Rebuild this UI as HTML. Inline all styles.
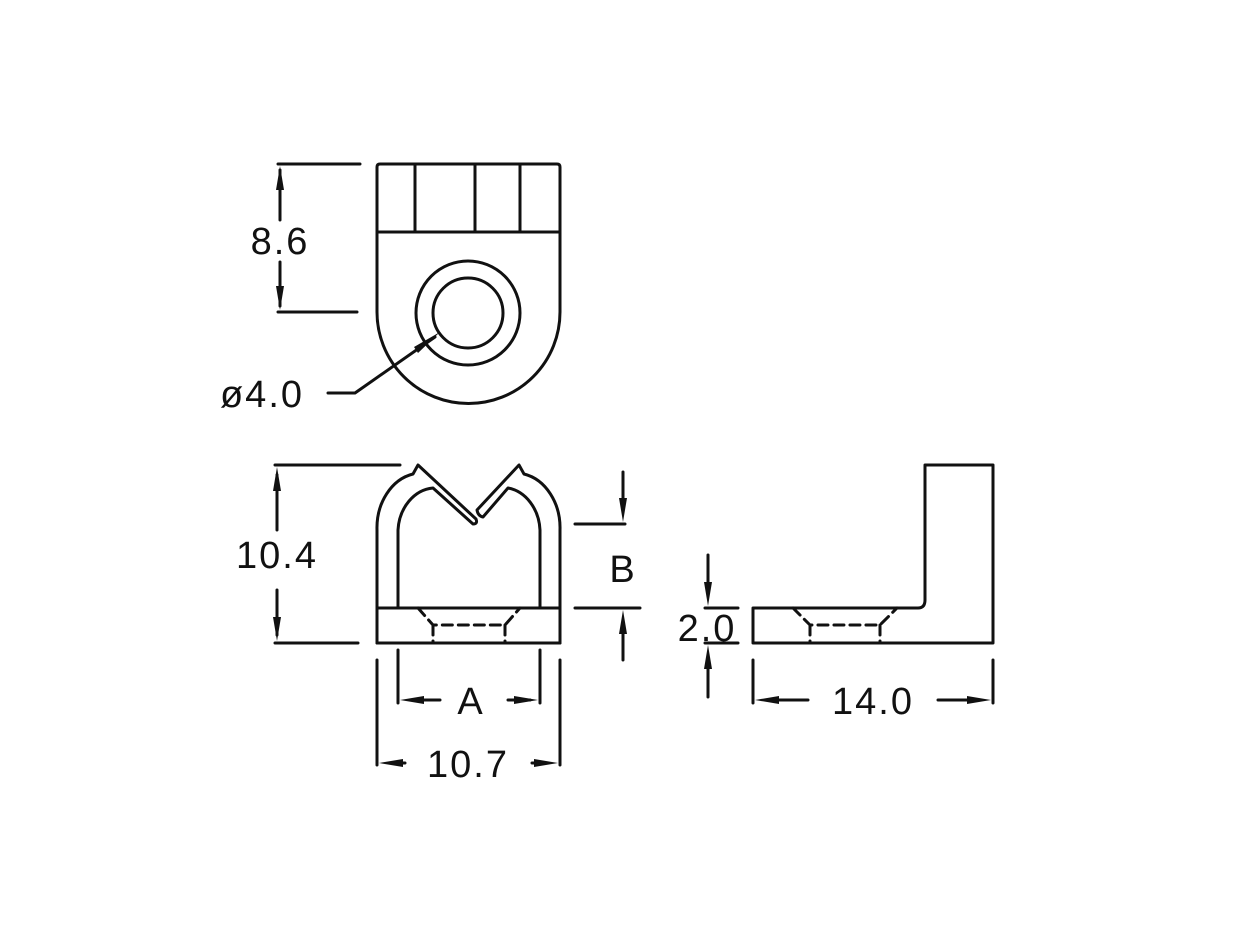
<!DOCTYPE html>
<html><head><style>html,body{margin:0;padding:0;background:#fff}svg{display:block}</style></head>
<body>
<svg width="1240" height="949" viewBox="0 0 1240 949" xmlns="http://www.w3.org/2000/svg">
<g fill="none" stroke="#111" stroke-width="3" stroke-linecap="round" stroke-linejoin="round">
<!-- top view -->
<path d="M377,312 V167 Q377,164 380,164 H557 Q560,164 560,167 V312 A91.5,91.5 0 0 1 377,312"/>
<path d="M377,232 H560 M415,164 V232 M475,164 V232 M520,164 V232"/>
<circle cx="468" cy="313" r="52"/>
<circle cx="468" cy="313" r="35"/>
<path d="M328,393 H355 L435,337"/>
<path d="M278,164 H360 M278,312 H357"/>
<path d="M280,220 V170 M280,262 V306"/>
<!-- front view -->
<path d="M377,643 V530 A45,55 0 0 1 413,474 L418,465 L476,519 Q478,524 473,524 L433,488 A38,45 0 0 0 398,530 V608"/>
<path d="M560,643 V530 A45,55 0 0 0 524,474 L519,465 L477,510 Q478,516 483,517 L508,488 A38,45 0 0 1 540,530 V608"/>
<path d="M377,608 H560 V643 H377 Z"/>
<path d="M418,608 L433,625 H505 L520,608 M433,625 V643 M505,625 V643" stroke-dasharray="10,6"/>
<path d="M275,465 H400 M275,643 H358"/>
<path d="M277,530 V475 M277,590 V635"/>
<path d="M398,650 V703 M540,650 V703"/>
<path d="M440,700 H410 M508,700 H530"/>
<path d="M377,660 V765 M560,660 V765"/>
<path d="M405,763 H390 M532,763 H548"/>
<path d="M575,524 H625 M575,608 H640"/>
<path d="M623,472 V512 M623,660 V620"/>
<!-- side view -->
<path d="M753,608 H918 Q925,608 925,600 V465 H993 V643 H753 Z"/>
<path d="M793,608 L810,625 H880 L897,608 M810,625 V643 M880,625 V643" stroke-dasharray="10,6"/>
<path d="M705,608 H738 M705,643 H738"/>
<path d="M708,555 V596 M708,697 V655"/>
<path d="M753,660 V703 M993,660 V703"/>
<path d="M808,700 H765 M938,700 H980"/>
</g>
<g fill="#111">
<polygon points="440,332 418,353 414,347"/>
<polygon points="280,166 276,190 284,190"/>
<polygon points="280,310 276,286 284,286"/>
<polygon points="277,467 273,491 281,491"/>
<polygon points="277,641 273,617 281,617"/>
<polygon points="400,700 424,696 424,704"/>
<polygon points="538,700 514,696 514,704"/>
<polygon points="379,763 403,759 403,767"/>
<polygon points="558,763 534,759 534,767"/>
<polygon points="623,522 619,498 627,498"/>
<polygon points="623,610 619,634 627,634"/>
<polygon points="708,606 704,582 712,582"/>
<polygon points="708,645 704,669 712,669"/>
<polygon points="755,700 779,696 779,704"/>
<polygon points="991,700 967,696 967,704"/>
</g>
<g font-family="Liberation Sans, sans-serif" font-size="38" fill="#111" text-anchor="middle" letter-spacing="2">
<text x="280" y="254">8.6</text>
<text x="262" y="407">ø4.0</text>
<text x="277" y="568">10.4</text>
<text x="471" y="714">A</text>
<text x="468" y="777">10.7</text>
<text x="623" y="582">B</text>
<text x="707" y="641">2.0</text>
<text x="873" y="714">14.0</text>
</g>
</svg>
</body></html>
